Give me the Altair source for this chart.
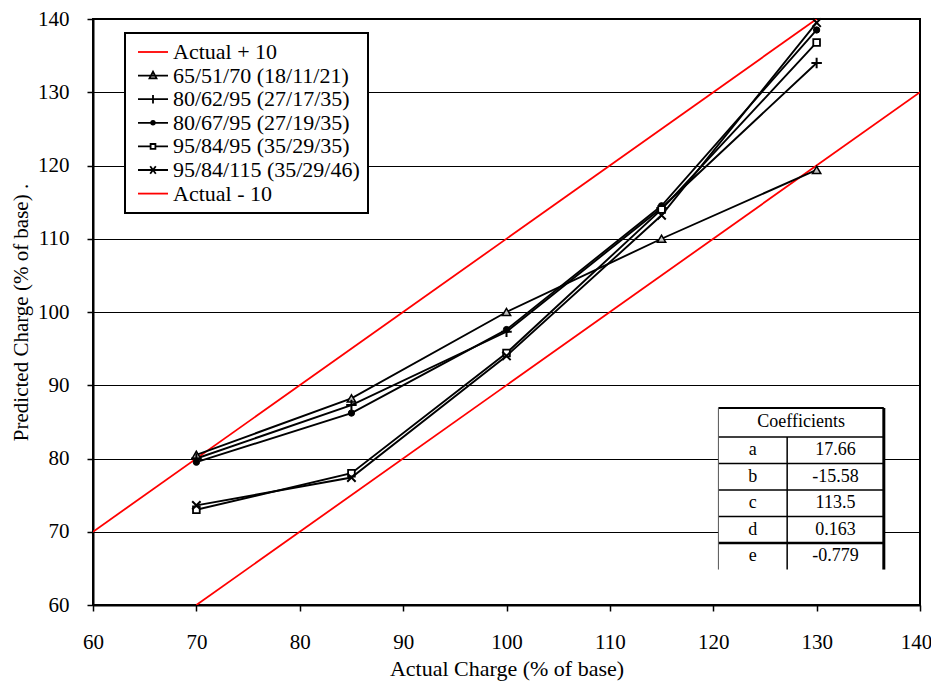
import altair as alt
import pandas as pd

# ---- data ----
actual = [70, 85, 100, 115, 130]
series_names = [
    "65/51/70 (18/11/21)",
    "80/62/95 (27/17/35)",
    "80/67/95 (27/19/35)",
    "95/84/95 (35/29/35)",
    "95/84/115 (35/29/46)",
]
s_65_51_70 = [80.5, 88.2, 100.0, 110.0, 119.4]
s_80_62_95 = [80.0, 87.3, 97.3, 114.2, 134.0]
s_80_67_95 = [79.5, 86.2, 97.6, 114.5, 138.5]
s_95_84_95 = [73.0, 78.0, 94.4, 114.0, 136.8]
s_95_84_115 = [73.6, 77.4, 94.0, 113.2, 139.5]
series_values = [s_65_51_70, s_80_62_95, s_80_67_95, s_95_84_95, s_95_84_115]

plus10_name = "Actual + 10"
minus10_name = "Actual - 10"
plus10_x = [60, 130]
plus10_y = [70, 140]
minus10_x = [70, 140]
minus10_y = [60, 130]

coef_names = ["a", "b", "c", "d", "e"]
coef_values = ["17.66", "-15.58", "113.5", "0.163", "-0.779"]

x_ticks = [60, 70, 80, 90, 100, 110, 120, 130, 140]
y_ticks = [60, 70, 80, 90, 100, 110, 120, 130, 140]

FONT = "Liberation Serif"

rows = []
for name, vals in zip(series_names, series_values):
    for xv, yv in zip(actual, vals):
        rows.append({"name": name, "x": xv, "y": yv})
df = pd.DataFrame(rows)

ref_rows = []
for xv, yv in zip(plus10_x, plus10_y):
    ref_rows.append({"name": plus10_name, "x": xv, "y": yv})
for xv, yv in zip(minus10_x, minus10_y):
    ref_rows.append({"name": minus10_name, "x": xv, "y": yv})
ref_df = pd.DataFrame(ref_rows)

xs = alt.Scale(domain=[60, 140], nice=False, zero=False)
ys = alt.Scale(domain=[60, 140], nice=False, zero=False)

X = alt.X("x:Q", scale=xs, axis=alt.Axis(
    values=x_ticks, title="Actual Charge (% of base)", grid=False,
    labelFont=FONT, labelFontSize=21, labelColor="black", labelPadding=20,
    labelOffset={"expr": "datum.value == 140 ? -4 : 0"},
    titleFont=FONT, titleFontSize=22, titleFontWeight="normal", titleColor="black",
    titlePadding=6, tickSize=6, tickColor="black", tickWidth=1.5,
    domainColor="black", domainWidth=2, labelFlush=False))
Y = alt.Y("y:Q", scale=ys, axis=alt.Axis(
    values=y_ticks, title="Predicted Charge (% of base) .", grid=True,
    gridColor="black", gridWidth=1, gridOpacity=1,
    labelFont=FONT, labelFontSize=21, labelColor="black", labelPadding=18,
    titleFont=FONT, titleFontSize=21, titleFontWeight="normal", titleColor="black",
    titlePadding=6, tickSize=6, tickColor="black", tickWidth=1.5,
    domainColor="black", domainWidth=2, labelFlush=False))

ref_lines = alt.Chart(ref_df).mark_line(color="#ff0000", strokeWidth=1.8, clip=True).encode(
    x=X, y=Y, detail="name:N")

series_lines = alt.Chart(df).mark_line(color="black", strokeWidth=1.9).encode(
    x="x:Q", y="y:Q", detail="name:N", order="x:Q")

def markers(name, **kw):
    return alt.Chart(df).transform_filter(alt.datum.name == name).mark_point(**kw).encode(
        x="x:Q", y="y:Q")

m1 = markers(series_names[0], shape="triangle-up", size=70, filled=False,
             fill="#c0c0c0", stroke="black", strokeWidth=1.5, opacity=1)
m2 = markers(series_names[1], shape="M-1,0H1M0,-1V1", size=110, filled=False,
             stroke="black", strokeWidth=2, opacity=1)
m3 = markers(series_names[2], shape="circle", size=40, filled=True,
             fill="black", stroke="black", strokeWidth=1, opacity=1)
m4 = markers(series_names[3], shape="square", size=45, filled=False,
             fill="white", stroke="black", strokeWidth=1.8, opacity=1)
m5 = markers(series_names[4], shape="M-1,-1L1,1M-1,1L1,-1", size=70, filled=False,
             stroke="black", strokeWidth=2, opacity=1)

# ---- legend (native legend from an empty layer with explicit scale domains) ----
legend_names = [plus10_name] + series_names + [minus10_name]
legend_paths = [
    "M-0.6,0H2.4",
    "M-0.6,0H2.4M0.9,-0.4L1.25,0.28H0.55Z",
    "M-0.6,0H2.4M0.9,-0.42V0.42",
    "M-0.6,0H2.4M0.72,0A0.18,0.18 0 1,0 1.08,0A0.18,0.18 0 1,0 0.72,0Z",
    "M-0.6,0H0.66M1.14,0H2.4M0.66,-0.24H1.14V0.24H0.66Z",
    "M-0.6,0H2.4M0.62,-0.38L1.18,0.38M0.62,0.38L1.18,-0.38",
    "M-0.6,0H2.4",
]
legend_strokes = ["#ff0000", "black", "black", "black", "black", "black", "#ff0000"]
legend_fills = ["transparent", "#c0c0c0", "transparent", "black", "white", "transparent", "transparent"]

leg = alt.Legend(title=None, orient="none", legendX=32, legendY=14,
                 symbolSize=400, symbolStrokeWidth=1.8, labelFont=FONT,
                 labelFontSize=22, labelColor="black", labelOffset=18,
                 padding=8, rowPadding=1.6, fillColor="white", strokeColor="black",
                 labelLimit=400)

legend_df = pd.DataFrame({"lname": legend_names, "x": [60] * 7, "y": [60] * 7})
legend_layer = alt.Chart(legend_df).transform_filter(
    alt.datum.lname == "__none__").mark_point(filled=False, opacity=1).encode(
    x="x:Q", y="y:Q",
    shape=alt.Shape("lname:N", scale=alt.Scale(domain=legend_names, range=legend_paths), legend=leg),
    color=alt.Color("lname:N", scale=alt.Scale(domain=legend_names, range=legend_strokes), legend=leg),
    fill=alt.Fill("lname:N", scale=alt.Scale(domain=legend_names, range=legend_fills), legend=leg),
)

# ---- coefficients table (annotation in data coordinates) ----
t_left, t_mid, t_right = 120.5, 127.15, 136.5
t_top = 86.9
head_h = 3.96
row_h = 3.62
row_lines = [t_top - head_h - i * row_h for i in range(len(coef_names) + 1)]
t_bottom = row_lines[-1]

bg = alt.Chart(pd.DataFrame({"x": [t_left], "x2": [t_right], "y": [t_bottom], "y2": [t_top]})).mark_rect(
    fill="white").encode(x="x:Q", x2="x2:Q", y="y:Q", y2="y2:Q")

hlines_df = pd.DataFrame({"x": [t_left] * 5, "x2": [t_right] * 5, "y": row_lines[:-1],
                          "w": [1.5, 1.5, 1.5, 1.5, 2.5]})
hlines = alt.Chart(hlines_df).mark_rule(color="black").encode(
    x="x:Q", x2="x2:Q", y="y:Q", strokeWidth=alt.StrokeWidth("w:Q", scale=None, legend=None))
top_line = alt.Chart(pd.DataFrame({"x": [t_left], "x2": [t_right], "y": [t_top]})).mark_rule(
    color="black", strokeWidth=2).encode(x="x:Q", x2="x2:Q", y="y:Q")
left_line = alt.Chart(pd.DataFrame({"x": [t_left], "y": [t_bottom], "y2": [t_top]})).mark_rule(
    color="#555555", strokeWidth=1).encode(x="x:Q", y="y:Q", y2="y2:Q")
right_line = alt.Chart(pd.DataFrame({"x": [t_right], "y": [t_bottom], "y2": [t_top]})).mark_rule(
    color="black", strokeWidth=3).encode(x="x:Q", y="y:Q", y2="y2:Q")
mid_line = alt.Chart(pd.DataFrame({"x": [t_mid], "y": [t_bottom], "y2": [row_lines[0]]})).mark_rule(
    color="black", strokeWidth=1.5).encode(x="x:Q", y="y:Q", y2="y2:Q")

head_txt = alt.Chart(pd.DataFrame({"x": [(t_left + t_right) / 2], "y": [t_top - head_h / 2],
                                   "t": ["Coefficients"]})).mark_text(
    font=FONT, fontSize=18, color="black", baseline="middle").encode(x="x:Q", y="y:Q", text="t:N")
centers = [row_lines[i] - row_h / 2 for i in range(len(coef_names))]
tbl_df = pd.DataFrame({"n": coef_names, "v": coef_values, "y": centers,
                       "xn": [(t_left + t_mid) / 2] * 5, "xv": [(t_mid + t_right) / 2] * 5})
name_txt = alt.Chart(tbl_df).mark_text(font=FONT, fontSize=18, color="black", baseline="middle").encode(
    x="xn:Q", y="y:Q", text="n:N")
val_txt = alt.Chart(tbl_df).mark_text(font=FONT, fontSize=18, color="black", baseline="middle").encode(
    x="xv:Q", y="y:Q", text="v:N")

chart = alt.layer(
    ref_lines, series_lines, m1, m2, m3, m4, m5, legend_layer,
    bg, hlines, top_line, left_line, right_line, mid_line, head_txt, name_txt, val_txt,
).properties(
    width=827, height=586,
    autosize=alt.AutoSizeParams(type="none"),
    padding={"left": 85, "top": 11, "right": 11, "bottom": 79},
    background="white",
).configure_view(stroke="black", strokeWidth=2).configure_legend(strokeWidth=2)

chart.save("out.html", embed_options={"renderer": "svg", "actions": False})
